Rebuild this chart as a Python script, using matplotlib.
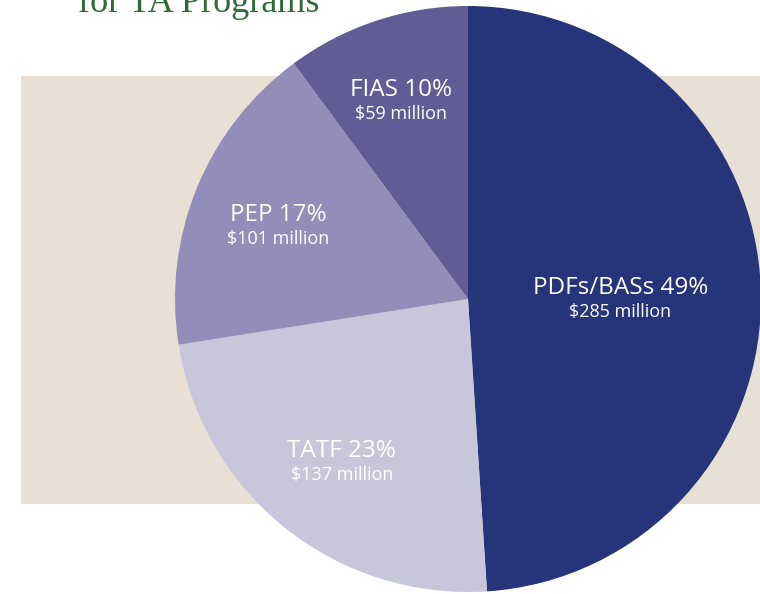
import matplotlib
matplotlib.use("Agg")
import matplotlib.pyplot as plt
from matplotlib.patches import Rectangle
import numpy as np

# data
programs = ["PDFs/BASs", "TATF", "PEP", "FIAS"]
shares = [49, 23, 17, 10]
millions = [285, 137, 101, 59]

colors = ["#263479", "#C8C6DB", "#938EB9", "#625C94"]
label_r = [0.52, 0.69, 0.70, 0.73]

fig = plt.figure(figsize=(7.6, 5.94), dpi=100)
ax = fig.add_axes([0, 0, 1, 1])

# beige panel behind the pie
ax.add_patch(Rectangle((21, 90), 739, 428, facecolor="#E8E0D4", edgecolor="none", zorder=0))

cx, cy, R = 468, 295, 293
wedges, _ = ax.pie(
    millions,
    colors=colors,
    startangle=90,
    counterclock=False,
    center=(cx, cy),
    radius=R,
    frame=True,
    wedgeprops=dict(linewidth=0),
)
ax.set_xlim(0, 760)
ax.set_ylim(0, 594)
ax.set_aspect("equal")
ax.axis("off")

for w, name, pct, m, r in zip(wedges, programs, shares, millions, label_r):
    ang = np.deg2rad((w.theta1 + w.theta2) / 2)
    x = cx + r * R * np.cos(ang)
    y = cy + r * R * np.sin(ang)
    ax.text(x, y + 6, f"{name} {pct}%", ha="center", va="center",
            color="white", fontsize=17.5, family="Open Sans", fontweight="medium")
    ax.text(x, y - 18, f"${m} million", ha="center", va="center",
            color="white", fontsize=13, family="Open Sans", fontweight="medium")

# title, cut off at the top edge
fig.text(78 / 760, 1 - 12 / 594, "for TA Programs", ha="left", va="baseline",
         color="#2E6B37", fontsize=26, family="Liberation Serif")

fig.savefig("out.png", dpi=100)
